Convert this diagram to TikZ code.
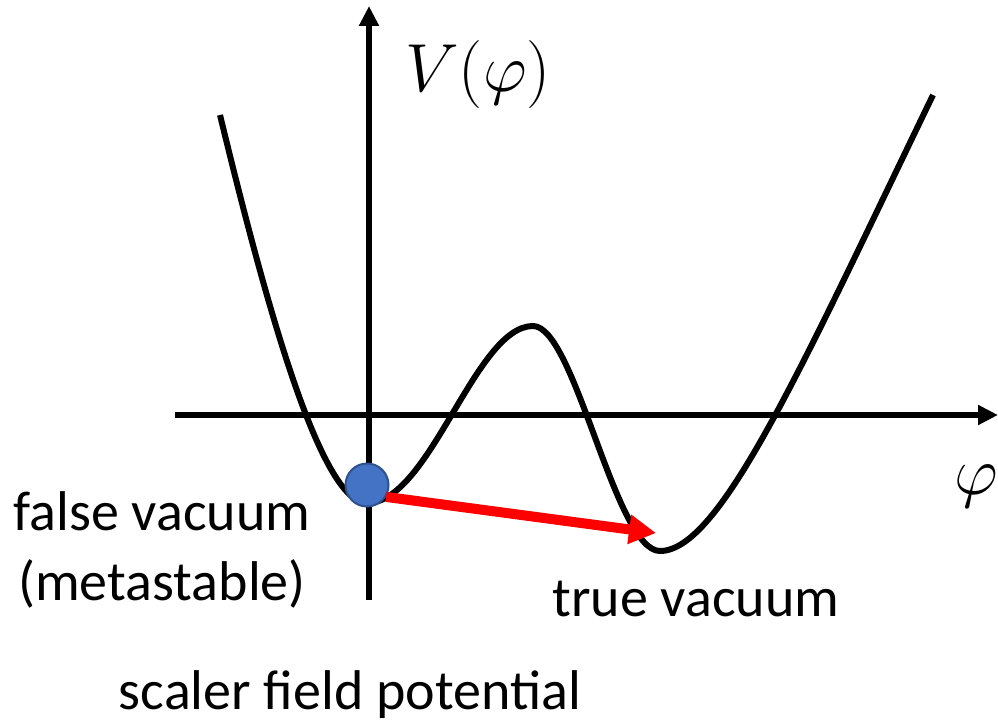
\RequirePackage{fix-cm}
\documentclass[tikz,border=0pt]{standalone}
\usepackage{fontspec}
\setmainfont{Carlito}
\usetikzlibrary{arrows.meta}
\definecolor{ballblue}{HTML}{4472C4}
\definecolor{balledge}{HTML}{2F528F}
\tikzset{
  axisline/.style={line width=5.5pt,-{Triangle[length=20pt,width=19pt]}},
  potline/.style={line width=6pt},
  label/.style={font=\fontsize{56}{68}\selectfont,inner sep=0pt,anchor=base},
  mathlabel/.style={font=\fontsize{68}{80}\selectfont,inner sep=0pt,anchor=base},
  tunnel/.style={red,line width=10pt,-{Triangle[length=27pt,width=28pt]}}
}
\begin{document}
\begin{tikzpicture}[x=1pt,y=-1pt]
\useasboundingbox (0,0) rectangle (998,725);
% axes
\coordinate (hstart) at (175,415);
\coordinate (hend) at (998,415);
\coordinate (vstart) at (369,600);
\coordinate (vend) at (369,6);
\draw[axisline] (hstart) -- (hend);
\draw[axisline] (vstart) -- (vend);
% potential curve
\draw[potline,line join=round]
  (220,115) .. controls (265,300) and (320,503) .. (367,503)
  .. controls (430,503) and (475,326) .. (533,326)
  .. controls (575,326) and (615,551) .. (660,551)
  .. controls (720,551) and (800,370) .. (933,95);
% false vacuum ball
\node[circle,fill=ballblue,draw=balledge,line width=2pt,minimum size=43pt,inner sep=0pt] (fv) at (367,485) {};
\coordinate (tvpt) at (656,533);
\draw[tunnel] (fv.-32) -- (tvpt);
% labels
\node[mathlabel] (Vlab) at (478,92) {\fontsize{68}{80}\selectfont$V(\varphi)$};
\node[mathlabel,anchor=base west] (philab) at (954,494) {\fontsize{68}{80}\selectfont$\varphi$};
\node[label] (fvlab) at (162,530) {false vacuum};
\node[label] (metalab) at (162,600) {(metastable)};
\node[label] (tvlab) at (696,616) {true vacuum};
\node[label] (title) at (350,709) {scaler field potential};
\end{tikzpicture}
\end{document}
